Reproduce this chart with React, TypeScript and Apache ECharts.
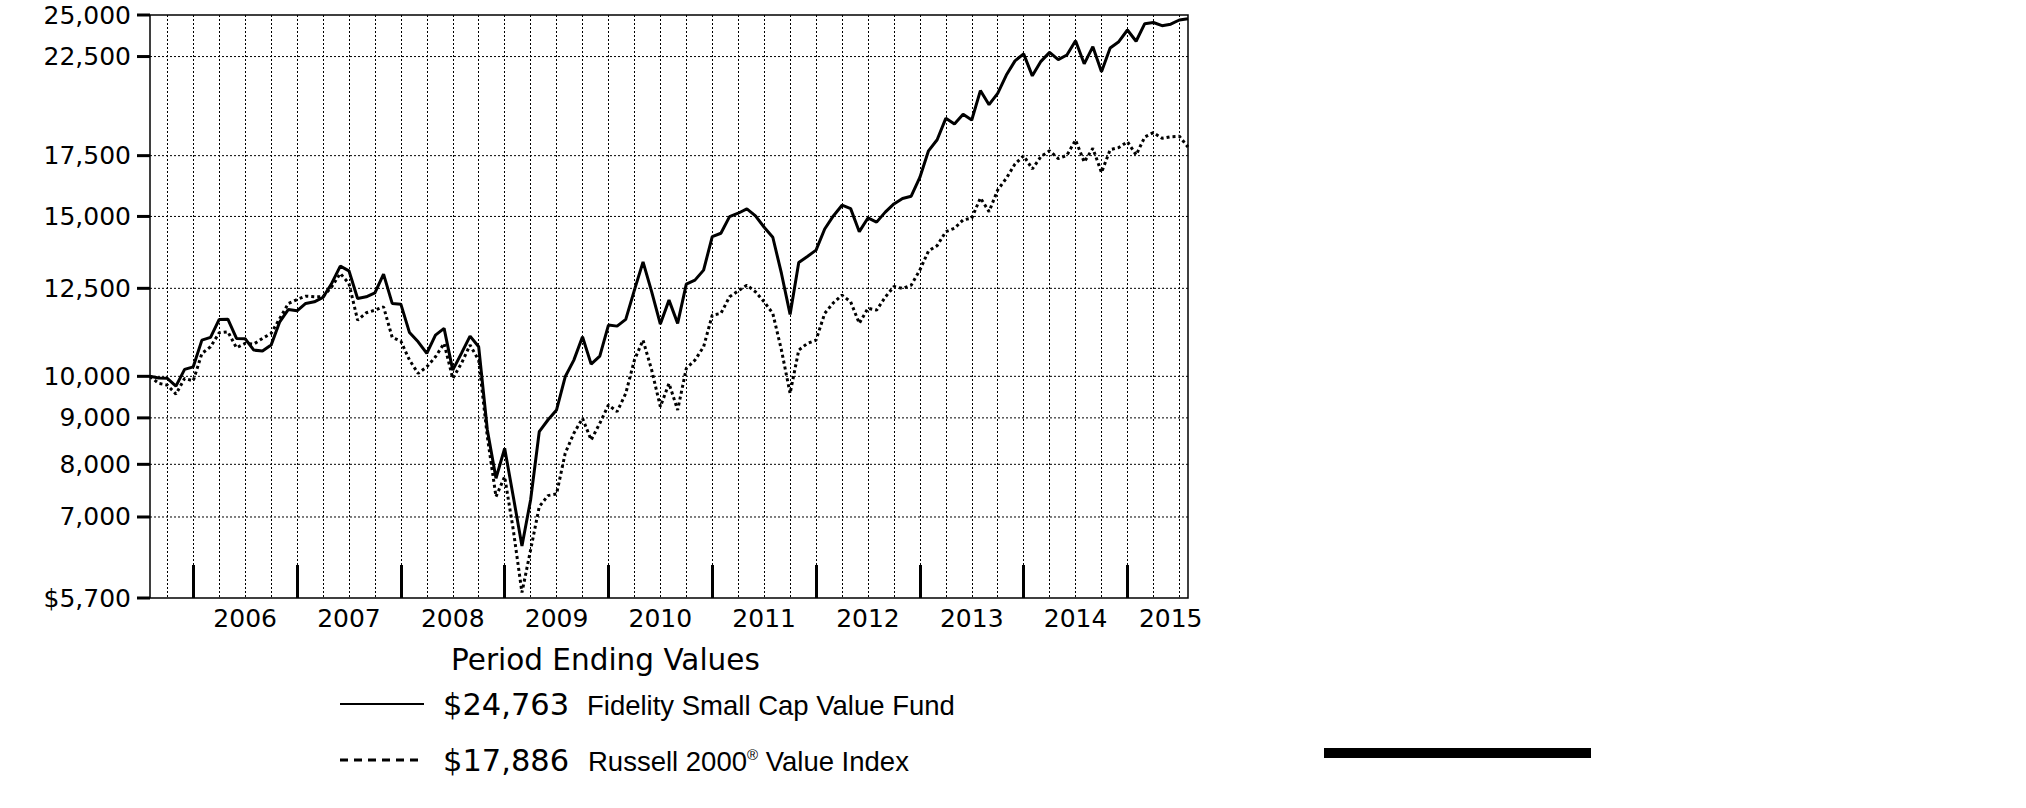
import React, { useEffect, useRef } from 'react';
import * as echarts from 'echarts';

// ---- Data ----
const MONTH_NAMES = ['Jan', 'Feb', 'Mar', 'Apr', 'May', 'Jun', 'Jul', 'Aug', 'Sep', 'Oct', 'Nov', 'Dec'];
const START_YEAR = 2005;
const START_MONTH = 6; // July
const MONTH_COUNT = 121; // Jul 2005 .. Jul 2015
const MONTHS: string[] = [];
for (let i = 0; i < MONTH_COUNT; i++) {
  const m = (START_MONTH + i) % 12;
  const y = START_YEAR + Math.floor((START_MONTH + i) / 12);
  MONTHS.push(`${MONTH_NAMES[m]} ${y}`);
}

const FUND_NAME = 'Fidelity Small Cap Value Fund';
const INDEX_NAME = 'Russell 2000® Value Index';

const FUND: number[] = [
  10000, 9960, 9950, 9755, 10177, 10244, 10962, 11038, 11553, 11560,
  11010, 11000, 10688, 10661, 10824, 11483, 11849, 11807, 12031, 12080,
  12215, 12656, 13224, 13068, 12184, 12234, 12359, 12958, 12031, 12009,
  11173, 10915, 10598, 11102, 11292, 10158, 10598, 11074, 10778, 8727,
  7722, 8332, 7370, 6504, 7309, 8690, 8952, 9182, 9988, 10420,
  11054, 10315, 10526, 11387, 11358, 11553, 12443, 13369, 12390, 11416,
  12132, 11437, 12634, 12763, 13091, 14251, 14374, 14993, 15123, 15288,
  15019, 14594, 14229, 12981, 11700, 13348, 13553, 13772, 14531, 15019,
  15433, 15300, 14432, 14943, 14785, 15165, 15484, 15701, 15789, 16558,
  17715, 18220, 19237, 18961, 19432, 19154, 20641, 19913, 20496, 21469,
  22256, 22654, 21425, 22228, 22741, 22329, 22586, 23417, 22088, 23070,
  21649, 22994, 23364, 24067, 23388, 24454, 24529, 24331, 24424, 24685,
  24763,
];

const INDEX: number[] = [
  10000, 9822, 9780, 9559, 9947, 9887, 10598, 10778, 11167, 11196,
  10751, 10871, 10852, 11010, 11150, 11582, 12031, 12153, 12255, 12234,
  12240, 12547, 12981, 12656, 11532, 11748, 11828, 11928, 11038, 10934,
  10420, 10074, 10244, 10507, 10871, 9947, 10333, 10824, 10420, 8580,
  7370, 7753, 6773, 5780, 6438, 7185, 7390, 7420, 8227, 8654,
  8991, 8509, 8877, 9299, 9143, 9576, 10420, 10962, 10158, 9259,
  9822, 9182, 10202, 10420, 10778, 11679, 11730, 12234, 12421, 12602,
  12390, 12080, 11730, 10688, 9576, 10688, 10871, 10962, 11730, 12049,
  12286, 12080, 11437, 11884, 11828, 12224, 12560, 12496, 12602, 13091,
  13744, 13930, 14432, 14557, 14868, 14932, 15721, 15184, 16043, 16525,
  17135, 17495, 16919, 17460, 17715, 17371, 17517, 18207, 17222, 17827,
  16769, 17764, 17863, 18128, 17530, 18345, 18556, 18285, 18359, 18382,
  17886,
];

const Y_TICKS: number[] = [5700, 7000, 8000, 9000, 10000, 12500, 15000, 17500, 22500, 25000];
const Y_TICK_LABELS: string[] = ['$5,700', '7,000', '8,000', '9,000', '10,000', '12,500', '15,000', '17,500', '22,500', '25,000'];
const YEAR_LABEL_MONTHS: string[] = [
  'Jun 2006', 'Jun 2007', 'Jun 2008', 'Jun 2009', 'Jun 2010',
  'Jun 2011', 'Jun 2012', 'Jun 2013', 'Jun 2014', 'May 2015',
];
const FUND_END_LABEL = '$24,763';
const INDEX_END_LABEL = '$17,886';
const LEGEND_TITLE = 'Period Ending Values';

const NUM_FONT = '"DejaVu Sans", Verdana, sans-serif';
const NAME_FONT = '"Liberation Sans", Arial, sans-serif';

export default function App() {
  const ref = useRef<HTMLDivElement>(null);

  useEffect(() => {
    if (!ref.current) return;
    const chart = echarts.init(ref.current, undefined, { renderer: 'svg' });

    const option: any = {
      animation: false,
      backgroundColor: '#ffffff',
      grid: {
        left: 150,
        top: 15,
        width: 1038,
        height: 583,
        show: true,
        borderColor: '#000',
        borderWidth: 1.5,
        backgroundColor: 'transparent',
      },
      xAxis: {
        type: 'category',
        data: MONTHS,
        boundaryGap: false,
        axisLine: { show: false },
        axisTick: {
          show: true,
          inside: true,
          length: 33,
          interval: (index: number) => index % 12 === 5,
          lineStyle: { color: '#000', width: 3 },
        },
        splitLine: {
          show: true,
          interval: (index: number) => index % 3 === 2,
          lineStyle: { color: '#000', width: 1, type: [2, 2] },
        },
        axisLabel: {
          show: true,
          interval: (index: number, value: string) => YEAR_LABEL_MONTHS.indexOf(value) >= 0,
          formatter: (value: string) => value.slice(-4),
          color: '#000',
          fontSize: 25,
          fontFamily: NUM_FONT,
          margin: 8,
          hideOverlap: false,
        },
      },
      yAxis: {
        type: 'log',
        logBase: 10,
        min: 5700,
        max: 25000,
        axisLine: { show: false },
        axisTick: { show: false },
        axisLabel: { show: false },
        splitLine: { show: false },
      },
      series: [
        {
          type: 'custom',
          name: 'yTicks',
          coordinateSystem: 'cartesian2d',
          silent: true,
          z: 1,
          clip: false,
          data: Y_TICKS.map((v) => [0, v]),
          encode: { x: 0, y: 1 },
          renderItem: (params: any, api: any) => {
            const idx = params.dataIndex;
            const v = api.value(1);
            const pt = api.coord([0, v]);
            const cs = params.coordSys;
            const y = pt[1];
            const children: any[] = [];
            if (idx > 0 && idx < Y_TICKS.length - 1) {
              children.push({
                type: 'line',
                shape: { x1: cs.x, y1: y, x2: cs.x + cs.width, y2: y },
                style: { stroke: '#000', lineWidth: 1, lineDash: [2, 2] },
              });
            }
            children.push({
              type: 'line',
              shape: { x1: cs.x - 13, y1: y, x2: cs.x, y2: y },
              style: { stroke: '#000', lineWidth: 3 },
            });
            children.push({
              type: 'text',
              style: {
                text: Y_TICK_LABELS[idx],
                x: cs.x - 19,
                y: y,
                align: 'right',
                verticalAlign: 'middle',
                fill: '#000',
                font: `25px ${NUM_FONT}`,
              },
            });
            return { type: 'group', children };
          },
        },
        {
          type: 'line',
          name: INDEX_NAME,
          data: INDEX,
          symbol: 'none',
          z: 3,
          lineStyle: { color: '#000', width: 3, type: [3, 3] },
        },
        {
          type: 'line',
          name: FUND_NAME,
          data: FUND,
          symbol: 'none',
          z: 4,
          lineStyle: { color: '#000', width: 3 },
        },
      ],
      graphic: [
        {
          type: 'text',
          x: 451,
          y: 660,
          style: {
            text: LEGEND_TITLE,
            font: `29.5px ${NUM_FONT}`,
            fill: '#000',
            verticalAlign: 'middle',
          },
        },
        {
          type: 'line',
          shape: { x1: 340, y1: 704, x2: 424, y2: 704 },
          style: { stroke: '#000', lineWidth: 2 },
        },
        {
          type: 'text',
          x: 443,
          y: 704,
          style: { text: FUND_END_LABEL, font: `30.5px ${NUM_FONT}`, fill: '#000', verticalAlign: 'middle' },
        },
        {
          type: 'text',
          x: 587,
          y: 705,
          style: { text: FUND_NAME, font: `27.5px ${NAME_FONT}`, fill: '#000', verticalAlign: 'middle' },
        },
        {
          type: 'line',
          shape: { x1: 340, y1: 760, x2: 422, y2: 760 },
          style: { stroke: '#000', lineWidth: 3, lineDash: [8, 6] },
        },
        {
          type: 'text',
          x: 443,
          y: 760,
          style: { text: INDEX_END_LABEL, font: `30.5px ${NUM_FONT}`, fill: '#000', verticalAlign: 'middle' },
        },
        {
          type: 'text',
          x: 588,
          y: 761,
          style: {
            text: 'Russell 2000{r|®} Value Index',
            font: `27.5px ${NAME_FONT}`,
            fill: '#000',
            verticalAlign: 'middle',
            rich: {
              r: { fontSize: 15, fontFamily: NAME_FONT, verticalAlign: 'top', fill: '#000' },
            },
          },
        },
        {
          type: 'rect',
          shape: { x: 1324, y: 748, width: 267, height: 10 },
          style: { fill: '#000' },
        },
      ],
    };

    chart.setOption(option);
    return () => {
      chart.dispose();
    };
  }, []);

  return (
    <div
      ref={ref}
      style={{ position: 'absolute', left: 0, top: 0, width: 2026, height: 808, background: '#fff' }}
    />
  );
}
